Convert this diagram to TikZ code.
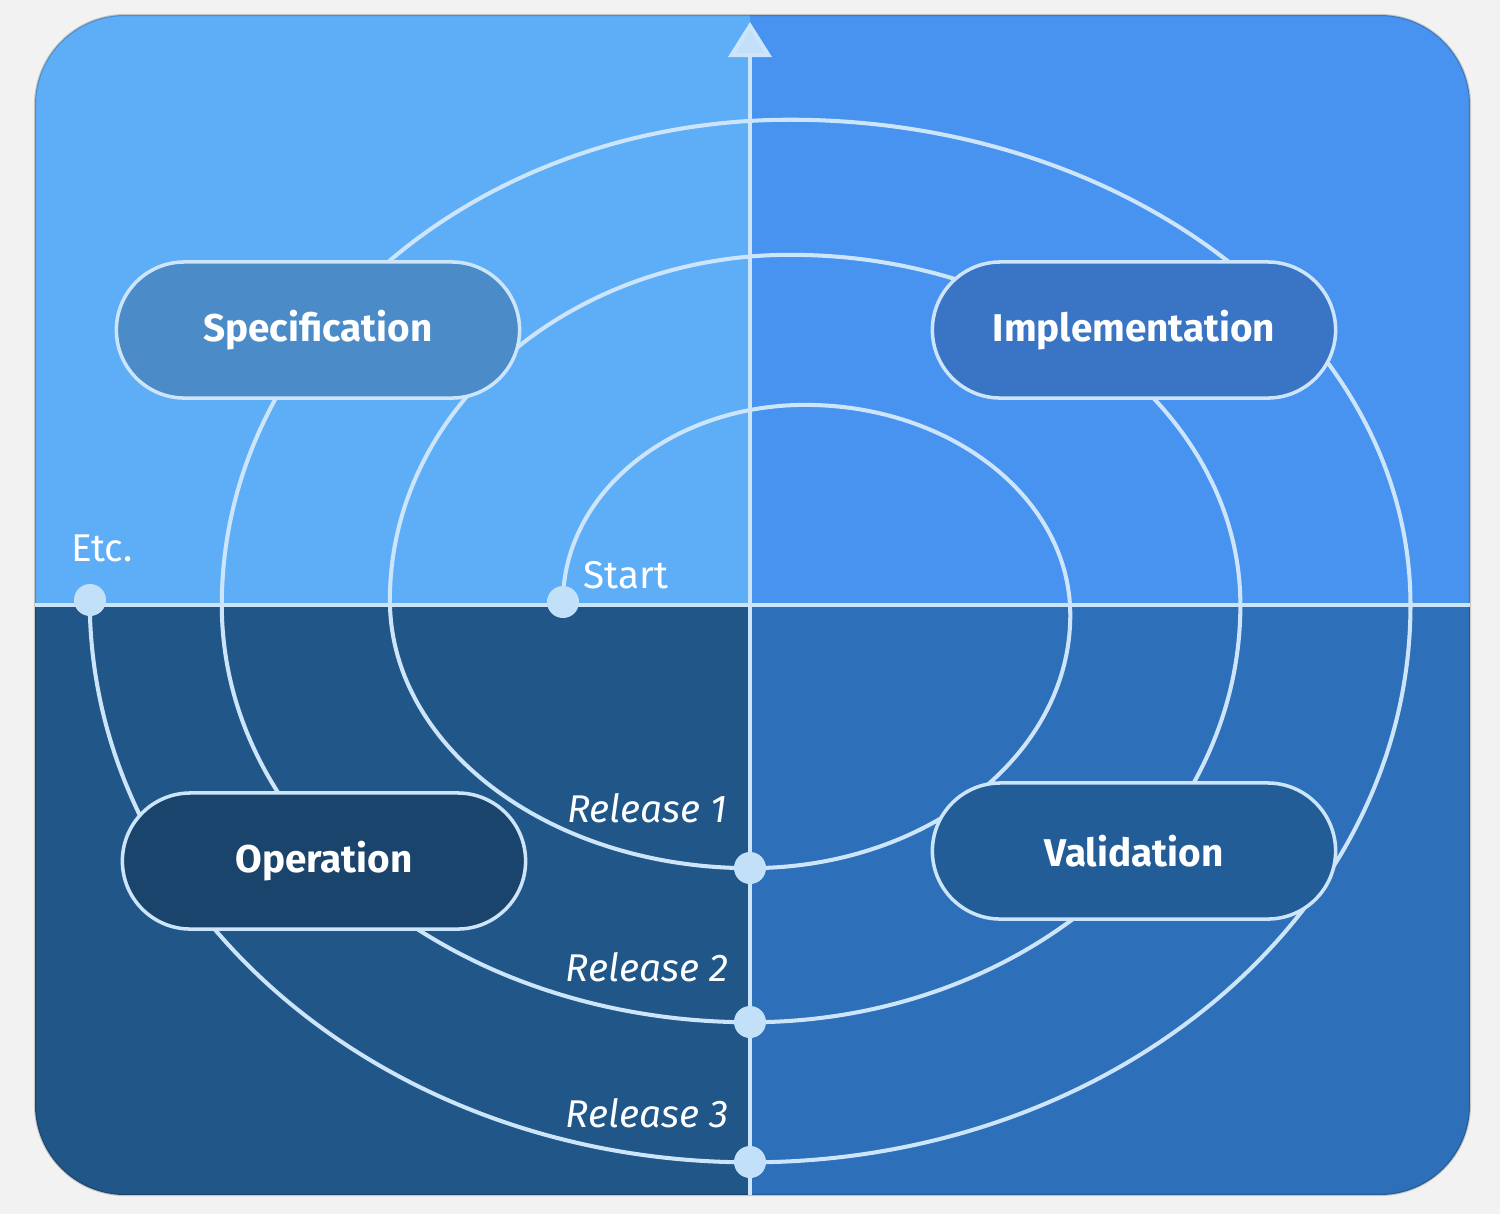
\documentclass[tikz,border=0pt]{standalone}
\usepackage{fontspec}
\setmainfont{Fira Sans}
\usetikzlibrary{arrows.meta}

\definecolor{pagegray}{HTML}{F2F2F2}
\definecolor{quadTL}{HTML}{5EAEF7}
\definecolor{quadTR}{HTML}{4893EF}
\definecolor{quadBL}{HTML}{215688}
\definecolor{quadBR}{HTML}{2D6FB8}
\definecolor{lineblue}{HTML}{CDE5FB}
\definecolor{dotblue}{HTML}{C3E0F9}
\definecolor{specfill}{HTML}{4A8BC8}
\definecolor{implfill}{HTML}{3A74C4}
\definecolor{operfill}{HTML}{1B446D}
\definecolor{validfill}{HTML}{235D98}

\tikzset{
  phase/.style={draw=lineblue, line width=1pt, rounded corners=0.68cm,
    minimum width=4.03cm, minimum height=1.36cm, text=white,
    font=\bfseries\fontsize{11}{13}\selectfont},
  spiral/.style={draw=lineblue, line width=1.15pt},
  axis/.style={draw=lineblue, line width=1.15pt},
  milestone/.style={circle, fill=dotblue, minimum size=0.32cm, inner sep=0pt},
  tag/.style={text=white, font=\fontsize{11}{13}\selectfont},
  release/.style={text=white!95!lineblue, font=\itshape\fontsize{11}{13}\selectfont}
}

\begin{document}
\begin{tikzpicture}[x=0.01cm, y=0.01cm]
  \useasboundingbox (-750,-609) rectangle (750,605);
  \fill[pagegray] (-750,-609) rectangle (750,605);

  % quadrants
  \begin{scope}
    \clip[rounded corners=0.9cm] (-715,-590) rectangle (720,590);
    \fill[quadTL] (-715,0) rectangle (0,590);
    \fill[quadTR] (0,0) rectangle (720,590);
    \fill[quadBL] (-715,-590) rectangle (0,0);
    \fill[quadBR] (0,-590) rectangle (720,0);
  \end{scope}
  \draw[black, opacity=0.18, line width=0.6pt, rounded corners=0.9cm] (-715,-590) rectangle (720,590);

  % axes
  \coordinate (west) at (-715,0);
  \coordinate (east) at (720,0);
  \coordinate (south) at (0,-590);
  \coordinate (north) at (0,583);
  \draw[axis] (west) -- (east);
  \draw[axis, -{Triangle[width=0.43cm, length=0.35cm, fill=dotblue]}] (south) -- (north);

  % spiral
  \coordinate (start) at (-187,3);
  \coordinate (etc) at (-660,5);
  \draw[spiral] (start)
    arc[start angle=180, end angle=90, x radius=2.42cm, y radius=1.97cm]
    arc[start angle=90, end angle=0, x radius=2.65cm, y radius=2.10cm]
    arc[start angle=0, end angle=-90, x radius=3.20cm, y radius=2.53cm]
    arc[start angle=-90, end angle=-180, x radius=3.60cm, y radius=2.68cm]
    arc[start angle=180, end angle=90, x radius=4.00cm, y radius=3.45cm]
    arc[start angle=90, end angle=0, x radius=4.50cm, y radius=3.50cm]
    arc[start angle=0, end angle=-90, x radius=4.90cm, y radius=4.17cm]
    arc[start angle=-90, end angle=-180, x radius=5.28cm, y radius=4.17cm]
    arc[start angle=180, end angle=90, x radius=5.68cm, y radius=4.85cm]
    arc[start angle=90, end angle=0, x radius=6.20cm, y radius=4.85cm]
    arc[start angle=0, end angle=-90, x radius=6.60cm, y radius=5.57cm]
    arc[start angle=-90, end angle=-180, x radius=6.60cm, y radius=5.62cm];

  % phases
  \node[phase, fill=specfill] (spec) at (-432,275) {Specification};
  \node[phase, fill=implfill] (impl) at (384,275) {Implementation};
  \node[phase, fill=operfill] (oper) at (-426,-256) {Operation};
  \node[phase, fill=validfill] (valid) at (384,-246) {Validation};

  % milestones
  \node[milestone] (startdot) at (start) {};
  \node[milestone] (etcdot) at (etc) {};
  \node[milestone] (rel1dot) at (0,-263) {};
  \node[milestone] (rel2dot) at (0,-417) {};
  \node[milestone] (rel3dot) at (0,-557) {};

  \node[tag] (startlbl) at (-124,30) {Start};
  \node[tag] (etclbl) at (-648,57) {Etc.};
  \node[release] (rel1) at (-103,-203) {Release 1};
  \node[release] (rel2) at (-103,-362) {Release 2};
  \node[release] (rel3) at (-103,-508) {Release 3};
\end{tikzpicture}
\end{document}
